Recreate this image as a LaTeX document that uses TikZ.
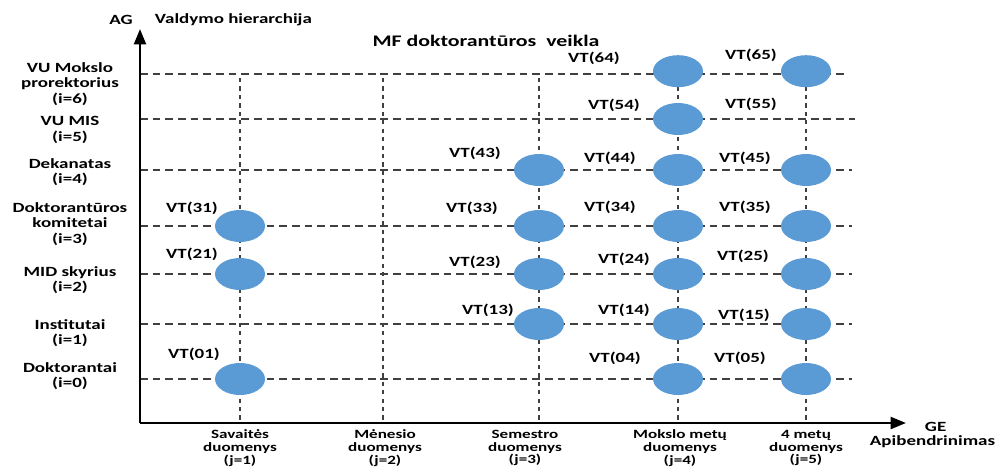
\documentclass[tikz,border=0pt]{standalone}
\usepackage{fontspec}
\setmainfont{Carlito}[FakeStretch=1.35]
\usetikzlibrary{shapes, arrows.meta}
\definecolor{vtblue}{RGB}{91,155,213}

\begin{document}
\begin{tikzpicture}[x=0.025cm, y=-0.025cm, font=\bfseries,
axis/.style={draw, line width=1.8pt, -{Triangle[length=11pt, width=8.5pt]}},
row-line/.style={draw=black!75, line width=0.8pt, dash pattern=on 5.5pt off 3.5pt},
col-line/.style={draw=black!75, line width=0.8pt, dash pattern=on 3pt off 3pt},
vt/.style={ellipse, fill=vtblue, minimum width=1.25cm, minimum height=0.8cm, inner sep=0pt},
vt-label/.style={font=\bfseries\fontsize{10}{12}\selectfont},
level/.style={align=center, font=\bfseries\fontsize{10}{11}\selectfont},
period/.style={align=center, font=\bfseries\fontsize{9}{9}\selectfont}
]
\useasboundingbox (0,0) rectangle (999,468);

% axes
\coordinate (origin) at (140,423);
\coordinate (ag-top) at (140,29);
\coordinate (ge-end) at (906,423);

% grid rows (i) and columns (j)
\coordinate (row-6) at (140,74);  \coordinate (row-6-end) at (848,74);
\coordinate (row-5) at (140,119); \coordinate (row-5-end) at (855,119);
\coordinate (row-4) at (140,170); \coordinate (row-4-end) at (852,170);
\coordinate (row-3) at (140,226); \coordinate (row-3-end) at (852,226);
\coordinate (row-2) at (140,274); \coordinate (row-2-end) at (852,274);
\coordinate (row-1) at (140,324); \coordinate (row-1-end) at (852,324);
\coordinate (row-0) at (140,379); \coordinate (row-0-end) at (852,379);

\coordinate (col-1) at (240,78); \coordinate (col-1-end) at (240,423);
\coordinate (col-2) at (383,78); \coordinate (col-2-end) at (383,423);
\coordinate (col-3) at (539,78); \coordinate (col-3-end) at (539,423);
\coordinate (col-4) at (678,78); \coordinate (col-4-end) at (678,423);
\coordinate (col-5) at (806,78); \coordinate (col-5-end) at (806,423);

\foreach \i in {0,...,6}
  \path [row-line] (row-\i) -- (row-\i-end);
\foreach \j in {1,...,5}
  \path [col-line] (col-\j) -- (col-\j-end);

\path [axis] (origin) -- (ag-top);
\path [axis] (origin) -- (ge-end);

\node [anchor=center] (ag) at ([shift={(-19,-9)}]ag-top) {AG};
\node [anchor=west] (ag-name) at ([shift={(10,-9)}]ag-top) {Valdymo hierarchija};
\node [font=\bfseries\fontsize{11.5}{14}\selectfont] (title) at (486,41) {MF doktorantūros\ \ veikla};
\node [anchor=west] (ge) at ([shift={(14,4)}]ge-end) {GE};
\node [anchor=west] (ge-name) at ([shift={(-41,19)}]ge-end) {Apibendrinimas};

% levels i
\node [level] (lvl-6) at ([shift={(-70,10)}]row-6) {VU Mokslo\\prorektorius\\(i=6)};
\node [level] (lvl-5) at ([shift={(-70,11)}]row-5) {VU MIS\\(i=5)};
\node [level] (lvl-4) at ([shift={(-70,2)}]row-4) {Dekanatas\\(i=4)};
\node [level] (lvl-3) at ([shift={(-70,-2)}]row-3) {Doktorantūros\\komitetai\\(i=3)};
\node [level] (lvl-2) at ([shift={(-70,6)}]row-2) {MID skyrius\\(i=2)};
\node [level] (lvl-1) at ([shift={(-70,9)}]row-1) {Institutai\\(i=1)};
\node [level] (lvl-0) at ([shift={(-70,-3)}]row-0) {Doktorantai\\(i=0)};

% periods j
\node [period] (per-1) at ([shift={(0,25)}]col-1-end) {Savaitės\\duomenys\\(j=1)};
\node [period] (per-2) at ([shift={(2,25)}]col-2-end) {Mėnesio\\duomenys\\(j=2)};
\node [period] (per-3) at ([shift={(-14,25)}]col-3-end) {Semestro\\duomenys\\(j=3)};
\node [period] (per-4) at ([shift={(2,25)}]col-4-end) {Mokslo metų\\duomenys\\(j=4)};
\node [period] (per-5) at ([shift={(0,25)}]col-5-end) {4 metų\\duomenys\\(j=5)};

% data nodes VT(ij)
\node [vt] (vt-31) at (col-1 |- row-3) {};
\node [vt] (vt-21) at (col-1 |- row-2) {};
\node [vt] (vt-01) at (col-1 |- row-0) {};
\node [vt] (vt-43) at (col-3 |- row-4) {};
\node [vt] (vt-33) at (col-3 |- row-3) {};
\node [vt] (vt-23) at (col-3 |- row-2) {};
\node [vt] (vt-13) at (col-3 |- row-1) {};
\node [vt] (vt-64) at ([yshift=2]col-4 |- row-6) {};
\node [vt] (vt-54) at (col-4 |- row-5) {};
\node [vt] (vt-44) at (col-4 |- row-4) {};
\node [vt] (vt-34) at (col-4 |- row-3) {};
\node [vt] (vt-24) at (col-4 |- row-2) {};
\node [vt] (vt-14) at (col-4 |- row-1) {};
\node [vt] (vt-04) at (col-4 |- row-0) {};
\node [vt] (vt-65) at ([yshift=2]col-5 |- row-6) {};
\coordinate (vt-55) at (col-5 |- row-5);
\node [vt] (vt-45) at (col-5 |- row-4) {};
\node [vt] (vt-35) at (col-5 |- row-3) {};
\node [vt] (vt-25) at (col-5 |- row-2) {};
\node [vt] (vt-15) at (col-5 |- row-1) {};
\node [vt] (vt-05) at (col-5 |- row-0) {};

\node [vt-label] (lab-31) at ([shift={(-48,-18)}]vt-31) {VT(31)};
\node [vt-label] (lab-21) at ([shift={(-48,-20)}]vt-21) {VT(21)};
\node [vt-label] (lab-01) at ([shift={(-46,-25)}]vt-01) {VT(01)};
\node [vt-label] (lab-43) at ([shift={(-64,-17)}]vt-43) {VT(43)};
\node [vt-label] (lab-33) at ([shift={(-67,-18)}]vt-33) {VT(33)};
\node [vt-label] (lab-23) at ([shift={(-64,-12)}]vt-23) {VT(23)};
\node [vt-label] (lab-13) at ([shift={(-51,-14)}]vt-13) {VT(13)};
\node [vt-label] (lab-64) at ([shift={(-84,-13)}]vt-64) {VT(64)};
\node [vt-label] (lab-54) at ([shift={(-64,-14)}]vt-54) {VT(54)};
\node [vt-label] (lab-44) at ([shift={(-68,-12)}]vt-44) {VT(44)};
\node [vt-label] (lab-34) at ([shift={(-68,-19)}]vt-34) {VT(34)};
\node [vt-label] (lab-24) at ([shift={(-54,-15)}]vt-24) {VT(24)};
\node [vt-label] (lab-14) at ([shift={(-54,-14)}]vt-14) {VT(14)};
\node [vt-label] (lab-04) at ([shift={(-63,-21)}]vt-04) {VT(04)};
\node [vt-label] (lab-65) at ([shift={(-55,-16)}]vt-65) {VT(65)};
\node [vt-label] (lab-55) at ([shift={(-55,-15)}]vt-55) {VT(55)};
\node [vt-label] (lab-45) at ([shift={(-61,-12)}]vt-45) {VT(45)};
\node [vt-label] (lab-35) at ([shift={(-61,-19)}]vt-35) {VT(35)};
\node [vt-label] (lab-25) at ([shift={(-63,-18)}]vt-25) {VT(25)};
\node [vt-label] (lab-15) at ([shift={(-62,-9)}]vt-15) {VT(15)};
\node [vt-label] (lab-05) at ([shift={(-66,-21)}]vt-05) {VT(05)};

\end{tikzpicture}
\end{document}
